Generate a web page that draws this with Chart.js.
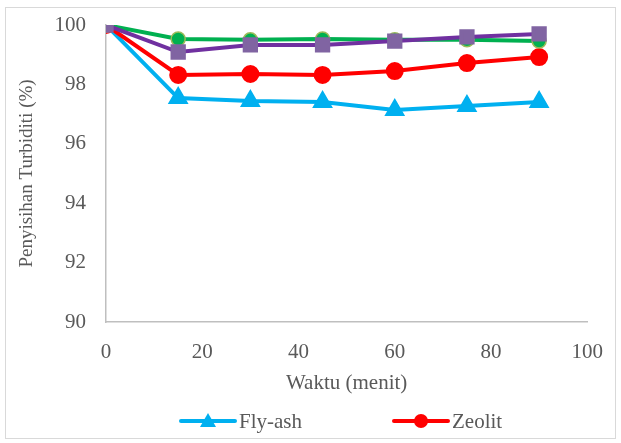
<!DOCTYPE html>
<html>
<head>
<meta charset="utf-8">
<script src="https://cdn.jsdelivr.net/npm/chart.js@4"></script>
<style>
  body { margin: 0; background: #fff; }
  #wrap { position: relative; width: 621px; height: 443px; }
  #frame { position: absolute; left: 5px; top: 7px; width: 611px; height: 432px; border: 1px solid #D9D9D9; box-sizing: border-box; }
  canvas { position: absolute; left: 0; top: 0; }
</style>
</head>
<body>
<div id="wrap">
  <div id="frame"></div>
  <canvas id="myChart" width="621" height="443"></canvas>
</div>
<script>
var waktu = [0, 15, 30, 45, 60, 75, 90];
var flyAsh = [100, 97.54, 97.44, 97.41, 97.14, 97.27, 97.41];
var zeolit = [100, 98.32, 98.35, 98.32, 98.45, 98.72, 98.92];
var seri3 = [100, 99.53, 99.5, 99.53, 99.5, 99.5, 99.46];
var seri4 = [100, 99.09, 99.33, 99.33, 99.46, 99.6, 99.7];

function pts(vals) {
    return waktu.map(function (x, i) { return { x: x, y: vals[i] }; });
}

var textColor = '#595959';
var fontName = "'Liberation Serif', 'DejaVu Serif', serif";

// legend drawn by hand so the line + marker look like the original
var legendPlugin = {
    id: 'bottomLegend',
    afterDraw: function (chart) {
        var c = chart.ctx;
        var y = 421;
        var items = [
            { ds: chart.data.datasets[0], x: 181 },
            { ds: chart.data.datasets[1], x: 394 }
        ];
        c.save();
        items.forEach(function (it) {
            var ds = it.ds;
            var mx = it.x + 27;
            c.strokeStyle = ds.borderColor;
            c.lineWidth = 4;
            c.lineCap = 'round';
            c.beginPath();
            c.moveTo(it.x, y);
            c.lineTo(it.x + 54, y);
            c.stroke();
            c.fillStyle = ds.pointBackgroundColor;
            c.beginPath();
            if (ds.pointStyle === 'triangle') {
                c.moveTo(mx, y - 8);
                c.lineTo(mx + 8, y + 6);
                c.lineTo(mx - 8, y + 6);
                c.closePath();
            } else {
                c.arc(mx, y, 7, 0, Math.PI * 2);
            }
            c.fill();
            c.fillStyle = textColor;
            c.font = '21px ' + fontName;
            c.textBaseline = 'middle';
            c.fillText(ds.label, it.x + 58, y + 1);
        });
        c.restore();
    }
};

var ctx = document.getElementById('myChart').getContext('2d');

var myChart = new Chart(ctx, {
    type: 'line',
    data: {
        datasets: [{
            label: 'Fly-ash',
            data: pts(flyAsh),
            borderColor: '#00B0F0',
            backgroundColor: '#00B0F0',
            pointBackgroundColor: '#00B0F0',
            pointBorderColor: '#00B0F0',
            pointStyle: 'triangle',
            pointRadius: 8,
            borderWidth: 4,
            order: 4
        }, {
            label: 'Zeolit',
            data: pts(zeolit),
            borderColor: '#FF0000',
            backgroundColor: '#FF0000',
            pointBackgroundColor: '#FF0000',
            pointBorderColor: '#FF0000',
            pointStyle: 'circle',
            pointRadius: 7,
            borderWidth: 4,
            order: 3
        }, {
            label: 'Seri 3',
            data: pts(seri3),
            borderColor: '#00B050',
            backgroundColor: '#00B050',
            pointBackgroundColor: '#00B050',
            pointBorderColor: '#9BBB59',
            pointBorderWidth: 1.5,
            pointStyle: 'circle',
            pointRadius: 7,
            borderWidth: 4,
            order: 2
        }, {
            label: 'Seri 4',
            data: pts(seri4),
            borderColor: '#7030A0',
            backgroundColor: '#8064A2',
            pointBackgroundColor: '#8064A2',
            pointBorderColor: '#8064A2',
            pointStyle: 'rect',
            pointRadius: 8,
            borderWidth: 4,
            order: 1
        }]
    },
    options: {
        responsive: false,
        animation: false,
        layout: { padding: { left: 14, right: 11, top: 25, bottom: 44 } },
        plugins: {
            legend: { display: false },
            tooltip: { enabled: false }
        },
        scales: {
            x: {
                type: 'linear',
                min: 0,
                max: 100,
                afterFit: function (s) { s.height = 77; },
                ticks: { stepSize: 20, color: textColor, font: { family: fontName, size: 21 }, padding: 18 },
                grid: { display: false, drawTicks: false },
                border: { color: '#BFBFBF', width: 1.5 },
                title: { display: true, text: 'Waktu (menit)', color: textColor, font: { family: fontName, size: 21 }, padding: { top: 4, bottom: 3 } }
            },
            y: {
                min: 90,
                max: 100,
                afterFit: function (s) { s.width = 92; s.paddingTop = 0; },
                ticks: { stepSize: 2, color: textColor, font: { family: fontName, size: 21 }, padding: 20 },
                grid: { display: false, drawTicks: false },
                border: { color: '#BFBFBF', width: 1.5 },
                title: { display: true, text: 'Penyisihan Turbiditi (%)', color: textColor, font: { family: fontName, size: 19 }, padding: { top: 2, bottom: 6 } }
            }
        }
    },
    plugins: [legendPlugin]
});
</script>
</body>
</html>
